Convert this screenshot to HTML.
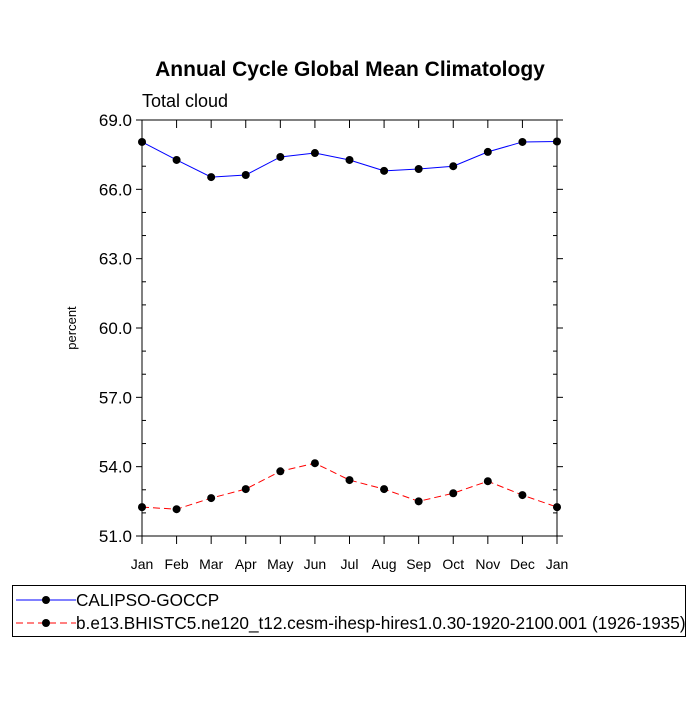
<!DOCTYPE html>
<html><head><meta charset="utf-8"><style>
body{margin:0;background:#fff;font-family:"Liberation Sans",Arial,sans-serif}
svg text{font-family:"Liberation Sans",Arial,sans-serif}
</style></head><body>
<svg id="chart" width="700" height="700" xmlns="http://www.w3.org/2000/svg">
<rect width="700" height="700" fill="#fff"/>
<text x="350" y="76" text-anchor="middle" font-size="21" font-weight="bold">Annual Cycle Global Mean Climatology</text>
<text x="142" y="107" font-size="18">Total cloud</text>
<text transform="translate(76,328) rotate(-90)" text-anchor="middle" font-size="13">percent</text>
<g id="axes"></g>
<g id="series"></g>
<g>
<rect x="12.5" y="585.5" width="673" height="51" fill="none" stroke="#000"/>
<g>
<line x1="16" y1="600" x2="76" y2="600" stroke="#00f" stroke-width="1"/>
<circle cx="46" cy="600" r="4" fill="#000"/>
<text x="76" y="606" font-size="17.2">CALIPSO-GOCCP</text></g>
<g>
<line x1="16" y1="623" x2="76" y2="623" stroke="#f00" stroke-dasharray="7,4"/>
<circle cx="46" cy="623" r="4" fill="#000"/>
<text x="76" y="629" font-size="17.2">b.e13.BHISTC5.ne120_t12.cesm-ihesp-hires1.0.30-1920-2100.001 (1926-1935)</text></g>
</g>
</svg>
<script>
const months=["Jan","Feb","Mar","Apr","May","Jun","Jul","Aug","Sep","Oct","Nov","Dec","Jan"];
const calipso=[68.05,67.27,66.53,66.62,67.4,67.57,67.27,66.8,66.88,67.0,67.62,68.05,68.07];
const model=[52.25,52.16,52.64,53.03,53.8,54.15,53.42,53.03,52.5,52.85,53.37,52.77,52.25];
const yTicks=[51.0,54.0,57.0,60.0,63.0,66.0,69.0];
const NS="http://www.w3.org/2000/svg";
const X0=142,X1=557,Y0=536,Y1=120,YMIN=51,YMAX=69;
const xs=i=>X0+(X1-X0)*i/(months.length-1);
const ys=v=>Y0-(v-YMIN)/(YMAX-YMIN)*(Y0-Y1);
function mk(tag,attrs,parent){const e=document.createElementNS(NS,tag);for(const k in attrs)e.setAttribute(k,attrs[k]);parent.appendChild(e);return e;}
const ax=document.getElementById('axes');
const frame=mk('rect',{x:X0,y:Y1,width:X1-X0,height:Y0-Y1,fill:'none',stroke:'#000','stroke-width':1},ax);


for(let v=YMIN;v<=YMAX;v+=1){
  const y=ys(v);
  if(yTicks.includes(v)){
    mk('line',{x1:X0-6,y1:y,x2:X0,y2:y,stroke:'#000'},ax);
    mk('line',{x1:X1,y1:y,x2:X1+6,y2:y,stroke:'#000'},ax);
  } else {
    mk('line',{x1:X0,y1:y,x2:X0+4,y2:y,stroke:'#000'},ax);
    mk('line',{x1:X1-4,y1:y,x2:X1,y2:y,stroke:'#000'},ax);
  }
}
yTicks.forEach(v=>{
  const t=mk('text',{x:X0-10,y:ys(v)+6,'text-anchor':'end','font-size':17},ax);
  t.textContent=v.toFixed(1);
  
  
});
months.forEach((m,i)=>{
  const x=xs(i);
  mk('line',{x1:x,y1:Y0,x2:x,y2:Y0+8,stroke:'#000'},ax);
  mk('line',{x1:x,y1:Y1,x2:x,y2:Y1+8,stroke:'#000'},ax);
  const t=mk('text',{x:x,y:569,'text-anchor':'middle','font-size':14},ax);
  t.textContent=m;
  
  
});
const sg=document.getElementById('series');
function series(vals,color,dash,name){
  const g=mk('g',{},sg);
  
  
  const pts=vals.map((v,i)=>xs(i)+','+ys(v)).join(' ');
  const a={points:pts,fill:'none',stroke:color,'stroke-width':1};
  if(dash)a['stroke-dasharray']=dash;
  mk('polyline',a,g);
  vals.forEach((v,i)=>{
    const c=mk('circle',{cx:xs(i),cy:ys(v),r:4,fill:'#000'},g);
    
    
  });
}
series(calipso,'#00f',null,'calipso-series');
series(model,'#f00','7,4','model-series');
</script>
</body></html>
